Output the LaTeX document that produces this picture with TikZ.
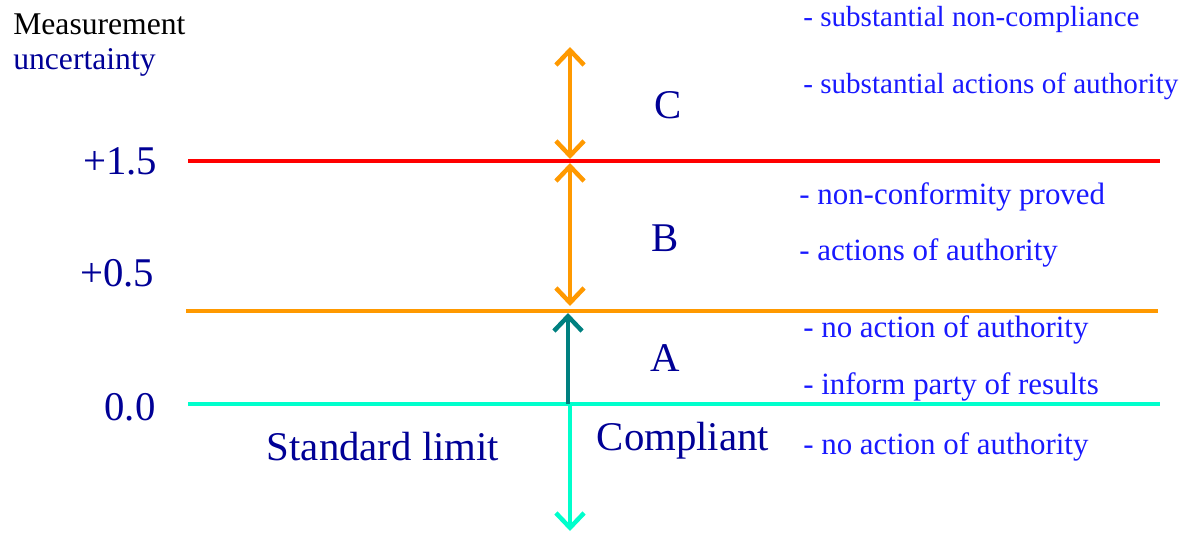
\documentclass[tikz,border=0pt]{standalone}
\usepackage{fontspec}
\setmainfont{Liberation Serif}
\usetikzlibrary{arrows.meta}

\definecolor{navytext}{RGB}{0,0,150}
\definecolor{notetext}{RGB}{25,25,255}
\definecolor{limitred}{RGB}{255,0,0}
\definecolor{limitorange}{RGB}{255,153,0}
\definecolor{limitcyan}{RGB}{0,255,204}
\definecolor{arrowteal}{RGB}{0,128,128}

\begin{document}
\begin{tikzpicture}[x=0.025cm, y=-0.025cm,
  >={Straight Barb[length=10.5pt,width=20pt]},
  level/.style={line width=3.5pt},
  span/.style={line width=3.2pt},
  big/.style={text=navytext, font=\fontsize{29}{33}\selectfont, inner sep=0pt},
  note/.style={text=notetext, font=\fontsize{22}{26}\selectfont, anchor=west, inner sep=0pt},
  tightnote/.style={note, font=\fontsize{20.7}{24}\selectfont}]
\useasboundingbox (0,0) rectangle (1186,533);

% Axis title
\node[anchor=west, inner sep=0pt, font=\fontsize{22.5}{26}\selectfont] (title1) at (13,24) {Measurement};
\node[anchor=west, inner sep=0pt, text=navytext, font=\fontsize{22.5}{26}\selectfont] (title2) at (13,62) {uncertainty};

% Limit lines
\coordinate (redL) at (188,161);   \coordinate (redR) at (1160,161);
\coordinate (orgL) at (186,311);   \coordinate (orgR) at (1158,311);
\coordinate (cyaL) at (188,404);   \coordinate (cyaR) at (1160,404);
\draw[level, limitred] (redL) -- (redR);
\draw[level, limitorange] (orgL) -- (orgR);
\draw[level, limitcyan] (cyaL) -- (cyaR);

\node[big] (v15) at (120,161) {+1.5};
\node[big] (v05) at (117,273) {+0.5};
\node[big] (v00) at (130,407) {0.0};

% Arrows between the levels
\coordinate (cTop) at (570,47);
\coordinate (cBot) at (570,159);
\coordinate (bTop) at (570,163);
\coordinate (bBot) at (570,306);
\coordinate (aTop) at (568,313);
\coordinate (aBot) at (568,404);
\coordinate (dTop) at (570,404);
\coordinate (dBot) at (570,531);
\draw[span, limitorange, <->] (cTop) -- (cBot);
\draw[span, limitorange, <->] (bTop) -- (bBot);
\draw[span, arrowteal, ->] (aBot) -- (aTop);
\draw[span, limitcyan, ->] (dTop) -- (dBot);

% Zones
\node[big] (zoneC) at (668,105) {C};
\node[big] (zoneB) at (665,238) {B};
\node[big] (zoneA) at (665,358) {A};
\node[big] (limit) at (383,447) {Standard limit};
\node[big] (compl) at (683,441) {Compliant};

% Consequences
\node[tightnote] (n1) at (803,19) {- substantial non-compliance};
\node[tightnote] (n2) at (803,86) {- substantial actions of authority};
\node[note] (n3) at (799,197) {- non-conformity proved};
\node[note] (n4) at (799,253) {- actions of authority};
\node[note] (n5) at (803,330) {- no action of authority};
\node[note] (n6) at (803,387) {- inform party of results};
\node[note] (n7) at (803,447) {- no action of authority};
\end{tikzpicture}
\end{document}
